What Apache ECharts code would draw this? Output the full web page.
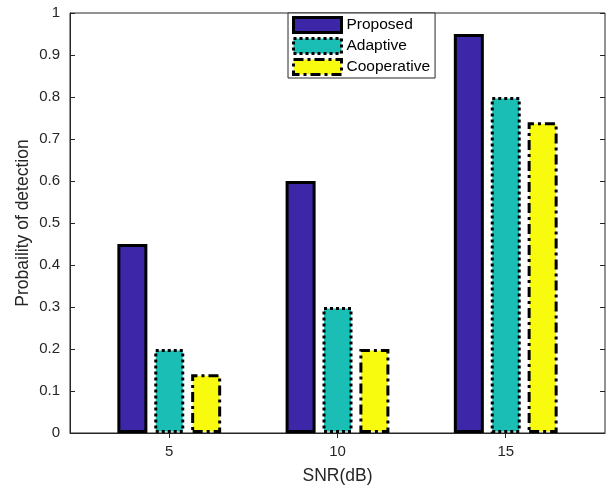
<!DOCTYPE html>
<html>
<head>
<meta charset="utf-8">
<script src="https://cdn.jsdelivr.net/npm/echarts@6/dist/echarts.min.js"></script>
<style>
  html, body { margin: 0; padding: 0; background: #fff; }
  #chart { width: 611px; height: 490px; }
</style>
</head>
<body>
<div id="chart"></div>
<script>
// SNR levels (dB) and detection probabilities per scheme
const snrLevels = [5, 10, 15];
const proposed = [0.45, 0.60, 0.95];
const adaptive = [0.20, 0.30, 0.80];
const cooperative = [0.14, 0.20, 0.74];
const seriesNames = ['Proposed', 'Adaptive', 'Cooperative'];

const FONT = 'Liberation Sans, Arial, Helvetica, sans-serif';
const AXIS_COLOR = '#262626';

const styles = [
  { color: '#3E26A8', borderType: 'solid' },
  { color: '#1BBEB4', borderType: [3, 3] },
  { color: '#F9FB0E', borderType: [10, 4, 3, 4] }
];

const pairs = (ys) => snrLevels.map((x, i) => [x, ys[i]]);
const valuesBySeries = [proposed, adaptive, cooperative];

const chart = echarts.init(document.getElementById('chart'), null, { renderer: 'canvas' });

const hiddenTickAxis = (pos) => ({
  show: true,
  position: pos,
  axisLine: { show: false },
  axisLabel: { show: false },
  splitLine: { show: false }
});

chart.setOption({
  animation: false,
  backgroundColor: '#ffffff',
  textStyle: { fontFamily: FONT },
  grid: {
    left: 70, right: 6, top: 13, bottom: 56,
    show: true, borderColor: AXIS_COLOR, borderWidth: 1, backgroundColor: 'transparent'
  },
  legend: {
    orient: 'vertical',
    left: 288, top: 13,
    itemWidth: 48, itemHeight: 15, itemGap: 3,
    padding: [3, 5, 2, 4],
    backgroundColor: '#ffffff',
    borderColor: AXIS_COLOR, borderWidth: 1,
    textStyle: { fontFamily: FONT, fontSize: 15.5, color: '#000' },
    icon: 'rect',
    data: seriesNames.map((n, i) => ({
      name: n,
      itemStyle: { color: styles[i].color, borderColor: '#000', borderWidth: 3, borderType: styles[i].borderType }
    }))
  },
  xAxis: [
    {
      type: 'value', min: 2.05, max: 17.95,
      name: 'SNR(dB)', nameLocation: 'middle', nameGap: 34, nameMoveOverlap: false,
      nameTextStyle: { fontFamily: FONT, fontSize: 17.5, color: AXIS_COLOR },
      axisLine: { show: true, onZero: false, lineStyle: { color: AXIS_COLOR } },
      axisTick: { show: true, inside: true, length: 5, customValues: snrLevels, lineStyle: { color: AXIS_COLOR } },
      axisLabel: { customValues: snrLevels, fontFamily: FONT, fontSize: 15, color: AXIS_COLOR, margin: 11 },
      splitLine: { show: false }
    },
    Object.assign({
      type: 'value', min: 2.05, max: 17.95,
      axisTick: { show: true, inside: true, length: 5, customValues: snrLevels, lineStyle: { color: AXIS_COLOR } }
    }, hiddenTickAxis('top'))
  ],
  yAxis: [
    {
      type: 'value', min: 0, max: 1, interval: 0.1,
      name: 'Probaility of detection', nameLocation: 'middle', nameGap: 38, nameMoveOverlap: false,
      nameTextStyle: { fontFamily: FONT, fontSize: 17.5, color: AXIS_COLOR },
      axisLine: { show: true, lineStyle: { color: AXIS_COLOR } },
      axisTick: { show: true, inside: true, length: 5, lineStyle: { color: AXIS_COLOR } },
      axisLabel: { fontFamily: FONT, fontSize: 15, color: AXIS_COLOR, margin: 10 },
      splitLine: { show: false }
    },
    Object.assign({
      type: 'value', min: 0, max: 1, interval: 0.1,
      axisTick: { show: true, inside: true, length: 5, lineStyle: { color: AXIS_COLOR } }
    }, hiddenTickAxis('right'))
  ],
  series: seriesNames.map((n, i) => ({
    name: n,
    type: 'bar',
    xAxisIndex: 0, yAxisIndex: 0,
    barWidth: 30,
    barGap: '23%',
    data: pairs(valuesBySeries[i]),
    itemStyle: {
      color: styles[i].color,
      borderColor: '#000',
      borderWidth: 3,
      borderType: styles[i].borderType
    }
  }))
});
</script>
</body>
</html>
